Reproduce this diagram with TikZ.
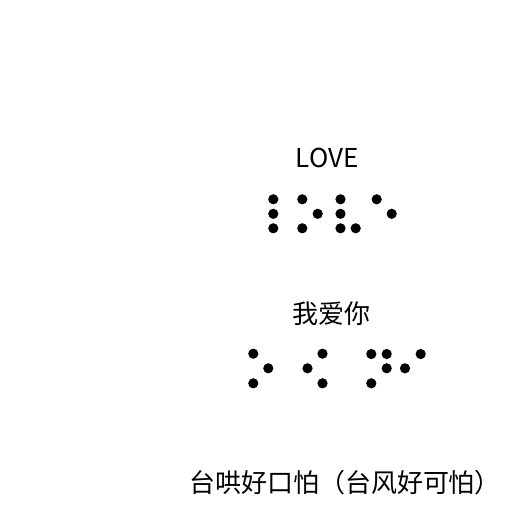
\documentclass[tikz,border=0pt]{standalone}
\usepackage{fontspec}
\setmainfont{Noto Sans CJK SC}
\usepackage{tikz}

\begin{document}
\begin{tikzpicture}[x=1pt, y=-1pt,
    word/.style={font=\fontsize{26}{30}\selectfont, inner sep=0pt}]
  \useasboundingbox (0,0) rectangle (512,512);
  \node[word] (love) at (327,158.3) {LOVE};
  \node[word] (wai)  at (331.5,313.5) {我爱你};
  \node[word] (pun)  at (345,482.5) {台哄好口怕（台风好可怕）};
  % braille for LOVE
  \foreach \x/\y in {273.3/199.3, 273.3/213.8, 273.3/228.3,
                     302.3/199.3, 302.3/228.3, 317.7/213.8,
                     340.5/199.3, 340.5/213.8, 340.5/228.3, 355.7/228.3,
                     376.7/199.3, 391.7/213.8}
    \fill (\x,\y) circle (5.1);
  % braille for the chinese line
  \foreach \x/\y in {253.3/353.7, 268.3/368.3, 253.3/383.3,
                     322.5/353.7, 307.5/368.3, 322.5/383.3,
                     371.3/354, 386.7/354, 386.7/368.3, 371.3/383.3,
                     405/368.3, 420.7/354}
    \fill (\x,\y) circle (5.1);
\end{tikzpicture}
\end{document}
